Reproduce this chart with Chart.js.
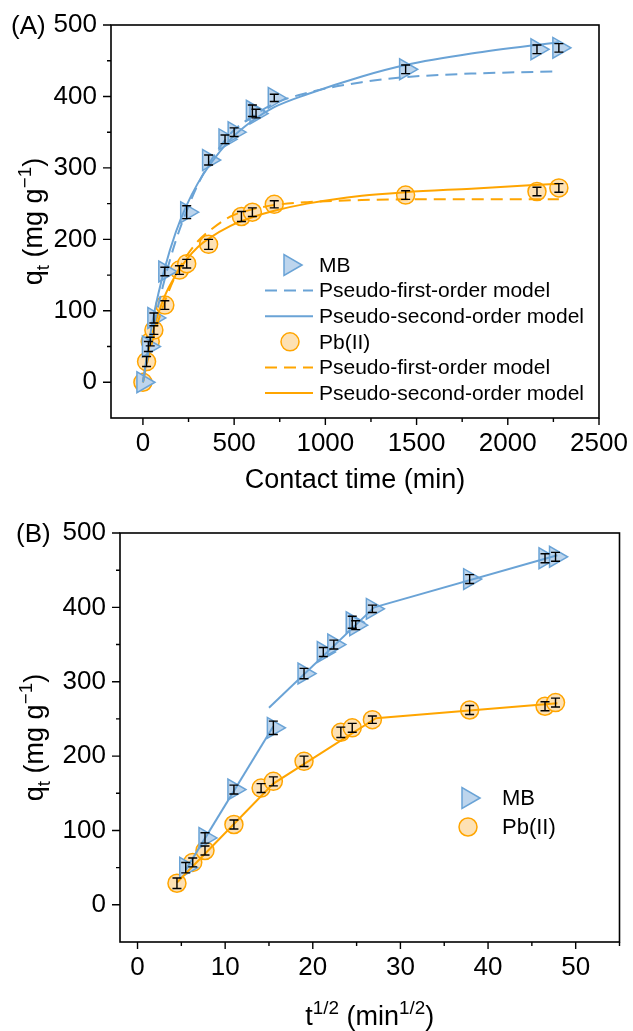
<!DOCTYPE html>
<html>
<head>
<meta charset="utf-8">
<script src="https://cdn.jsdelivr.net/npm/chart.js@4"></script>
<style>
body{margin:0;background:#fff}
#wrap{position:relative;width:633px;height:1031px}
canvas{position:absolute;left:0}
</style>
</head>
<body>
<div id="wrap">
  <canvas id="chartA" width="633" height="500" style="top:0"></canvas>
  <canvas id="chartB" width="633" height="531" style="top:500px"></canvas>
</div>
<script>
// ---- data ----
const mbTime = [0,30,60,120,240,360,450,500,600,620,720,1440,2160,2280];
const mbQ    = [0,50,90,155,238,311,340,350,380,376,398,438,466,468];
const mbErr  = [0,7,7,6,9,7,6,6,8,6,5,6,6,6];
const pbTime = [0,20,40,60,120,200,240,360,540,600,720,1440,2160,2280];
const pbQ    = [0,29,57,73,108,157,166,193,232,238,249,262,267,272];
const pbErr  = [0,7,6,6,6,6,6,7,7,6,5,6,6,6];

// fitted kinetic curves (panel A)
const fitTime = [0,30,60,120,180,240,300,360,480,600,720,900,1200,1440,1800,2280];
const mbPFO   = [0,42,80,145,198,240,276,305,348,372,390,405,420,427,432,435];
const mbPSO   = [0,50,95,160,210,248,278,302,340,366,385,403,428,444,460,476];
const pbPFO   = [0,35,65,113,150,177,197,211,232,242,248,252,255,256,256,256];
const pbPSO   = [0,44,76,121,150,172,189,201,219,231,240,250,261,266,271,278];

// panel B: t^1/2 values
const mbSqrt = [5.5,7.7,11.0,15.5,19.0,21.2,22.4,24.5,24.9,26.8,37.9,46.5,47.7];
const mbQB   = [50,90,155,238,311,340,350,380,376,398,438,466,468];
const mbErrB = [7,7,6,9,7,6,6,8,6,5,6,6,6];
const pbSqrt = [4.5,6.3,7.7,11.0,14.1,15.5,19.0,23.2,24.5,26.8,37.9,46.5,47.7];
const pbQB   = [29,57,73,108,157,166,193,232,238,249,262,267,272];
const pbErrB = [7,6,6,6,6,6,7,7,6,5,6,6,6];

// intraparticle diffusion lines (panel B)
const mbSeg1X = [5.5,15.5],   mbSeg1Y = [47,240];
const mbSeg2X = [15.0,27.0],  mbSeg2Y = [265,400];
const mbSeg3X = [27.0,47.9],  mbSeg3Y = [400,470];
const pbSegX  = [4.5,15.5,27.2,47.9], pbSegY = [30,163,251,271];

// tick values
const yTickVals  = [0,50,100,150,200,250,300,350,400,450,500];
const xTickValsA = [0,250,500,750,1000,1250,1500,1750,2000,2250,2500];
const xTickValsB = [0,5,10,15,20,25,30,35,40,45,50,55];

const BLUE='#6aa3d6', BLUE_FILL='#bdd5ed', ORANGE='#ffa500', ORANGE_FILL='#fde1b4';
const FONT='"Liberation Sans", Arial, sans-serif';

const pts=(xs,ys)=>xs.map((x,i)=>({x,y:ys[i]}));

const mbMarker={pointStyle:'triangle',rotation:90,radius:12,borderWidth:1.5};
const pbMarker={pointStyle:'circle',rotation:0,radius:9,borderWidth:1.5};

function scatterSet(label,data,err,m,stroke,fill){
  return {label,data,err,showLine:false,order:3,
    pointStyle:m.pointStyle,pointRotation:m.rotation,pointRadius:m.radius,
    pointBorderWidth:m.borderWidth,pointBorderColor:stroke,pointBackgroundColor:fill};
}
function lineSet(label,data,color,dash,tension){
  return {label,data,showLine:true,order:1,borderColor:color,borderWidth:2,
    borderDash:dash||[],pointRadius:0,tension:tension||0,
    cubicInterpolationMode:tension?'monotone':'default',fill:false};
}

// rich text with sub/superscripts
function drawRich(ctx,parts,x,y,size,rot,align){
  ctx.save();
  ctx.translate(x,y);
  if(rot) ctx.rotate(-Math.PI/2);
  ctx.textBaseline='alphabetic';ctx.textAlign='left';ctx.fillStyle='#000';
  let w=0;
  parts.forEach(p=>{ctx.font=(p[1]?size*0.7:size)+'px '+FONT;w+=ctx.measureText(p[0]).width;});
  let cx=align==='left'?0:-w/2;
  parts.forEach(p=>{
    const s=p[1]?size*0.7:size;
    ctx.font=s+'px '+FONT;
    const dy=p[1]==='sub'?size*0.25:p[1]==='sup'?-size*0.42:0;
    ctx.fillText(p[0],cx,dy);
    cx+=ctx.measureText(p[0]).width;
  });
  ctx.restore();
}

const decor={
  id:'decor',
  afterDatasetsDraw(chart){
    const ctx=chart.ctx, ys=chart.scales.y;
    chart.data.datasets.forEach((ds,i)=>{
      if(!ds.err) return;
      const meta=chart.getDatasetMeta(i);
      ctx.save();ctx.strokeStyle='#000';ctx.lineWidth=1.4;
      meta.data.forEach((pt,j)=>{
        const e=ds.err[j]; if(!e) return;
        const v=ds.data[j].y;
        const y1=ys.getPixelForValue(v+e), y2=ys.getPixelForValue(v-e);
        ctx.beginPath();
        ctx.moveTo(pt.x,y1);ctx.lineTo(pt.x,y2);
        ctx.moveTo(pt.x-4.5,y1);ctx.lineTo(pt.x+4.5,y1);
        ctx.moveTo(pt.x-4.5,y2);ctx.lineTo(pt.x+4.5,y2);
        ctx.stroke();
      });
      ctx.restore();
    });
  },
  afterDraw(chart,args,o){
    const ctx=chart.ctx, a=chart.chartArea, xs=chart.scales.x, ys=chart.scales.y;
    ctx.save();
    ctx.strokeStyle='#000';ctx.lineWidth=1.6;
    ctx.strokeRect(a.left,a.top,a.right-a.left,a.bottom-a.top);
    ctx.lineWidth=1.4;ctx.beginPath();
    o.xTicks.forEach(v=>{
      const px=xs.getPixelForValue(v), len=(v%o.xMajor===0)?7:4;
      ctx.moveTo(px,a.bottom);ctx.lineTo(px,a.bottom+len);
    });
    yTickVals.forEach(v=>{
      const py=ys.getPixelForValue(v), len=(v%100===0)?8:4;
      ctx.moveTo(a.left,py);ctx.lineTo(a.left-len,py);
    });
    ctx.stroke();
    ctx.restore();
    // axis titles
    drawRich(ctx,o.xTitle,(a.left+a.right)/2,o.xTitleY,27,false);
    drawRich(ctx,[['q',''],['t','sub'],[' (mg g',''],['\u22121','sup'],[')','']],o.yTitleX,(a.top+a.bottom)/2,27,true);
    // panel label
    drawRich(ctx,[[o.panel,'']],o.panelX,o.panelY,26,false,'left');
    // legend
    ctx.save();
    o.legend.forEach((it,i)=>{
      const y=o.legY+i*o.legStep;
      if(it.marker){
        ctx.fillStyle=it.fill;ctx.strokeStyle=it.stroke;ctx.lineWidth=it.marker.borderWidth;
        Chart.helpers.drawPoint(ctx,{pointStyle:it.marker.pointStyle,rotation:it.marker.rotation,radius:it.marker.radius,borderWidth:it.marker.borderWidth},o.legMarkX,y);
      } else {
        ctx.strokeStyle=it.color;ctx.lineWidth=2;ctx.setLineDash(it.dash||[]);
        ctx.beginPath();ctx.moveTo(o.legLine[0],y);ctx.lineTo(o.legLine[1],y);ctx.stroke();
        ctx.setLineDash([]);
      }
      ctx.fillStyle='#000';ctx.font=o.legFont+'px '+FONT;
      ctx.textBaseline='middle';ctx.textAlign='left';
      ctx.fillText(it.label,o.legTextX,y+1);
    });
    ctx.restore();
  }
};

function scales(xmin,xmax,xTicks,xMajor,yWidth,xHeight){
  return {
    x:{type:'linear',min:xmin,max:xmax,
      afterBuildTicks:s=>{s.ticks=xTicks.map(v=>({value:v}));},
      afterFit:s=>{s.height=xHeight;},
      grid:{display:false,drawTicks:true,tickLength:7},border:{display:false},
      ticks:{autoSkip:false,maxRotation:0,padding:3,color:'#000',font:{family:FONT,size:26},
        callback:v=>v%xMajor===0?v:''}},
    y:{type:'linear',min:-50,max:500,
      afterBuildTicks:s=>{s.ticks=yTickVals.map(v=>({value:v}));},
      afterFit:s=>{s.width=yWidth;},
      grid:{display:false,drawTicks:true,tickLength:8},border:{display:false},
      ticks:{autoSkip:false,padding:6,color:'#000',font:{family:FONT,size:26},
        callback:v=>v%100===0?v:''}}
  };
}

const dash=[12,7];

new Chart(document.getElementById('chartA'),{
  type:'scatter',
  data:{datasets:[
    scatterSet('MB',pts(mbTime,mbQ),mbErr,mbMarker,BLUE,BLUE_FILL),
    scatterSet('Pb(II)',pts(pbTime,pbQ),pbErr,pbMarker,ORANGE,ORANGE_FILL),
    lineSet('MB PFO',pts(fitTime,mbPFO),BLUE,dash,0.4),
    lineSet('MB PSO',pts(fitTime,mbPSO),BLUE,null,0.4),
    lineSet('Pb PFO',pts(fitTime,pbPFO),ORANGE,dash,0.4),
    lineSet('Pb PSO',pts(fitTime,pbPSO),ORANGE,null,0.4)
  ]},
  options:{responsive:false,animation:false,
    layout:{padding:{top:25,right:34,left:0,bottom:0}},
    scales:scales(-175,2500,xTickValsA,500,111,82),
    plugins:{legend:{display:false},tooltip:{enabled:false},
      decor:{xTicks:xTickValsA,xMajor:500,
        xTitle:[['Contact time (min)','']],xTitleY:488,yTitleX:42,
        panel:'(A)',panelX:11,panelY:34,
        legY:265,legStep:25.6,legMarkX:290,legLine:[265,313],legTextX:319,legFont:21,
        legend:[
          {label:'MB',marker:mbMarker,stroke:BLUE,fill:BLUE_FILL},
          {label:'Pseudo-first-order model',color:BLUE,dash},
          {label:'Pseudo-second-order model',color:BLUE},
          {label:'Pb(II)',marker:pbMarker,stroke:ORANGE,fill:ORANGE_FILL},
          {label:'Pseudo-first-order model',color:ORANGE,dash},
          {label:'Pseudo-second-order model',color:ORANGE}
        ]}}},
  plugins:[decor]
});

new Chart(document.getElementById('chartB'),{
  type:'scatter',
  data:{datasets:[
    scatterSet('MB',pts(mbSqrt,mbQB),mbErrB,mbMarker,BLUE,BLUE_FILL),
    scatterSet('Pb(II)',pts(pbSqrt,pbQB),pbErrB,pbMarker,ORANGE,ORANGE_FILL),
    lineSet('MB 1',pts(mbSeg1X,mbSeg1Y),BLUE),
    lineSet('MB 2',pts(mbSeg2X,mbSeg2Y),BLUE),
    lineSet('MB 3',pts(mbSeg3X,mbSeg3Y),BLUE),
    lineSet('Pb',pts(pbSegX,pbSegY),ORANGE)
  ]},
  options:{responsive:false,animation:false,
    layout:{padding:{top:33,right:3,left:0,bottom:0}},
    scales:scales(-2,55,xTickValsB,10,120,89),
    plugins:{legend:{display:false},tooltip:{enabled:false},
      decor:{xTicks:xTickValsB,xMajor:10,
        xTitle:[['t',''],['1/2','sup'],[' (min',''],['1/2','sup'],[')','']],xTitleY:525,yTitleX:43,
        panel:'(B)',panelX:16,panelY:42,
        legY:298,legStep:29,legMarkX:468,legLine:[0,0],legTextX:502,legFont:22,
        legend:[
          {label:'MB',marker:mbMarker,stroke:BLUE,fill:BLUE_FILL},
          {label:'Pb(II)',marker:pbMarker,stroke:ORANGE,fill:ORANGE_FILL}
        ]}}},
  plugins:[decor]
});
</script>
</body>
</html>
